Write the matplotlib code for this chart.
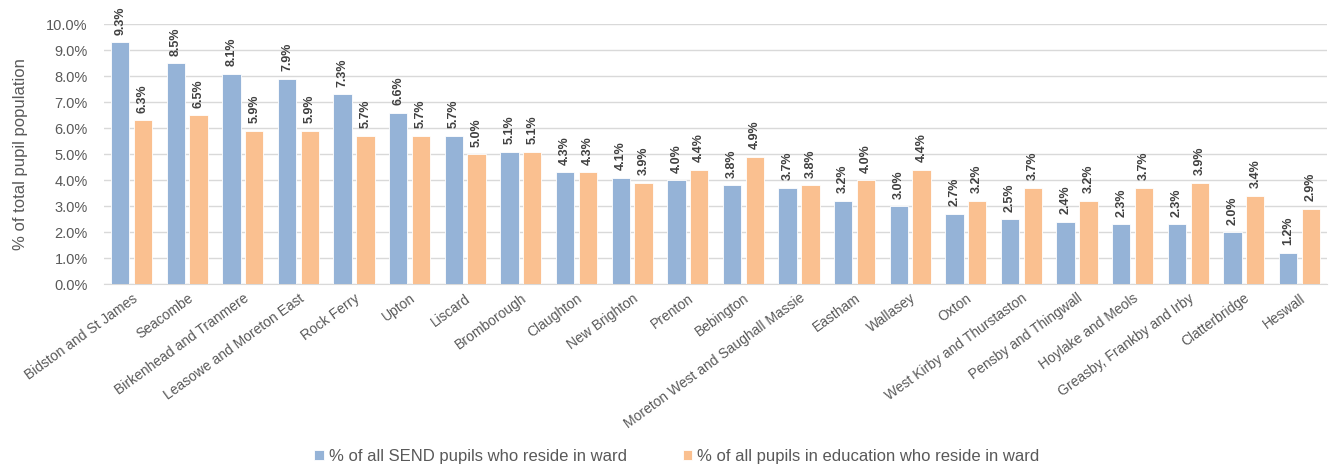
import matplotlib
matplotlib.use("Agg")
import matplotlib.pyplot as plt
import numpy as np
from matplotlib.ticker import PercentFormatter, MultipleLocator

wards = ["Bidston and St James", "Seacombe", "Birkenhead and Tranmere", "Leasowe and Moreton East",
         "Rock Ferry", "Upton", "Liscard", "Bromborough", "Claughton", "New Brighton", "Prenton",
         "Bebington", "Moreton West and Saughall Massie", "Eastham", "Wallasey", "Oxton",
         "West Kirby and Thurstaston", "Pensby and Thingwall", "Hoylake and Meols",
         "Greasby, Frankby and Irby", "Clatterbridge", "Heswall"]
send = [9.3, 8.5, 8.1, 7.9, 7.3, 6.6, 5.7, 5.1, 4.3, 4.1, 4.0, 3.8, 3.7, 3.2, 3.0, 2.7, 2.5, 2.4, 2.3, 2.3, 2.0, 1.2]
allp = [6.3, 6.5, 5.9, 5.9, 5.7, 5.7, 5.0, 5.1, 4.3, 3.9, 4.4, 4.9, 3.8, 4.0, 4.4, 3.2, 3.7, 3.2, 3.7, 3.9, 3.4, 2.9]
series_names = ["% of all SEND pupils who reside in ward", "% of all pupils in education who reside in ward"]

blue = "#95b3d7"
orange = "#fac090"
gray = "#595959"

fig = plt.figure(figsize=(13.3, 4.66), dpi=100)
ax = fig.add_axes([0.078, 0.39, 0.92, 0.558])

x = np.arange(len(wards))
w = 0.33
off = 0.205
b1 = ax.bar(x - off, send, w, color=blue, edgecolor="white", linewidth=0.6, label=series_names[0], zorder=3)
b2 = ax.bar(x + off, allp, w, color=orange, edgecolor="white", linewidth=0.6, label=series_names[1], zorder=3)

for xs, vals in ((x - off, send), (x + off, allp)):
    for xi, v in zip(xs, vals):
        ax.annotate(f"{v:.1f}%", (xi, v), xytext=(0, 5.5), textcoords="offset points",
                    rotation=90, ha="center", va="bottom", annotation_clip=False,
                    color="#404040", fontweight="bold", family="Liberation Sans", fontsize=9)

ax.set_xlim(-0.5, len(wards) - 0.5)
ax.set_ylim(0, 10)
ax.yaxis.set_major_locator(MultipleLocator(1))
ax.yaxis.set_major_formatter(PercentFormatter(decimals=1))
ax.grid(axis="y", color="#d9d9d9", linewidth=1, zorder=0)
for s in ax.spines.values():
    s.set_visible(False)
ax.spines["bottom"].set_visible(True)
ax.spines["bottom"].set_color("#d9d9d9")
ax.tick_params(axis="both", length=0, colors=gray)
ax.set_xticks(x)
ax.set_xticklabels(wards, rotation=36, ha="right", rotation_mode="anchor",
                   fontsize=10, color=gray, family="Liberation Sans")
for t in ax.get_yticklabels():
    t.set_fontsize(10.5)
    t.set_family("Liberation Sans")
ax.tick_params(axis="y", pad=11.5)
ax.tick_params(axis="x", pad=5)
ax.set_ylabel("% of total pupil population", fontsize=12, color=gray, family="Liberation Sans", labelpad=13)

fig.legend(handles=[b1, b2], loc="lower center", bbox_to_anchor=(0.509, -0.028), ncol=2, frameon=False,
           labelcolor=gray, handlelength=0.55, handleheight=0.55, handletextpad=0.3,
           columnspacing=3.4, prop={"family": "Liberation Sans", "size": 12})

fig.savefig("out.png", dpi=100)
